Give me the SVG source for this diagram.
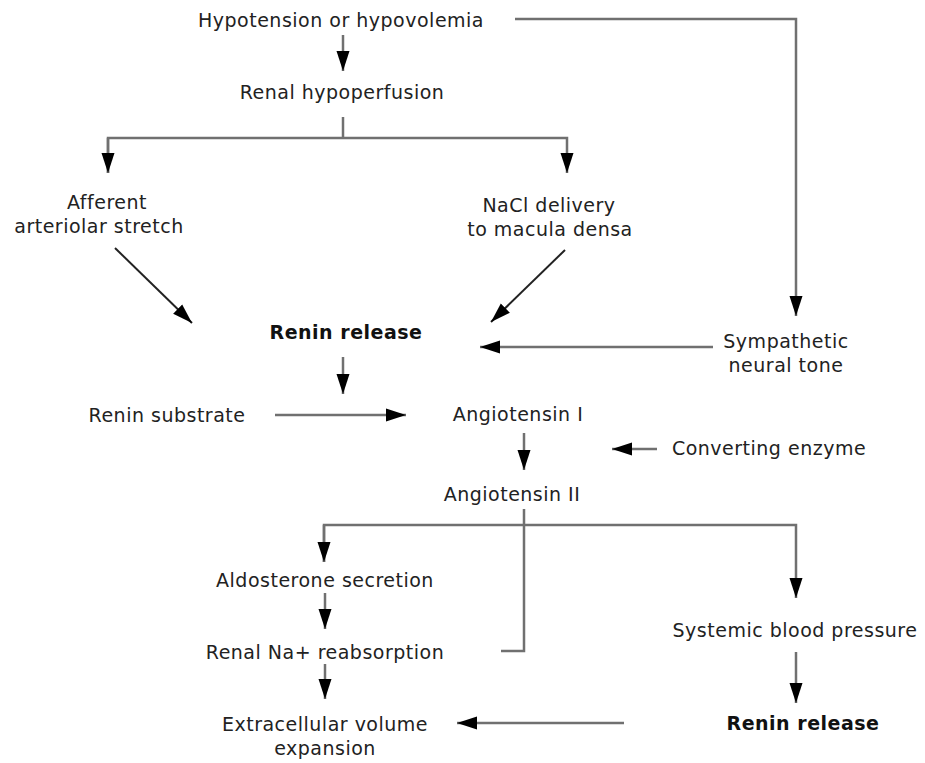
<svg xmlns="http://www.w3.org/2000/svg" width="925" height="763" viewBox="0 0 925 763">
<style>
text{font-family:"DejaVu Sans",Verdana,sans-serif;font-size:19px;letter-spacing:0.5px;fill:#222;text-anchor:middle}
.b{font-weight:bold;fill:#111}
.c{fill:none;stroke:#707070;stroke-width:2.5}
.d{fill:none;stroke:#222;stroke-width:2}
</style>
<defs>
<marker id="ah" markerUnits="userSpaceOnUse" markerWidth="20" markerHeight="14" refX="20" refY="7" orient="auto" viewBox="0 0 20 14">
<path d="M0,0.5 L20,7 L0,13.5 z" fill="#000"/>
</marker>
</defs>
<rect width="925" height="763" fill="#fff"/>
<g id="connectors">
<line class="c" x1="343" y1="35" x2="343" y2="71" marker-end="url(#ah)"/>
<polyline class="c" points="343,117 343,138"/>
<polyline class="c" points="108,173 108,138 567,138 567,173" marker-end="url(#ah)"/>
<line class="c" x1="108" y1="138" x2="108" y2="173" marker-end="url(#ah)"/>
<line class="d" x1="115" y1="248" x2="192" y2="323" marker-end="url(#ah)"/>
<line class="d" x1="565" y1="250" x2="491" y2="322" marker-end="url(#ah)"/>
<polyline class="c" points="515,19 796,19 796,316" marker-end="url(#ah)"/>
<line class="c" x1="713" y1="347" x2="480" y2="347" marker-end="url(#ah)"/>
<line class="c" x1="343" y1="357" x2="343" y2="394" marker-end="url(#ah)"/>
<line class="c" x1="275" y1="415" x2="406" y2="415" marker-end="url(#ah)"/>
<line class="c" x1="524" y1="433" x2="524" y2="470" marker-end="url(#ah)"/>
<line class="c" x1="657" y1="449" x2="612" y2="449" marker-end="url(#ah)"/>
<polyline class="c" points="524,509 524,651 501,651"/>
<polyline class="c" points="324,562 324,525 796,525 796,598" marker-end="url(#ah)"/>
<line class="c" x1="324" y1="525" x2="324" y2="562" marker-end="url(#ah)"/>
<line class="c" x1="325" y1="593" x2="325" y2="629" marker-end="url(#ah)"/>
<line class="c" x1="325" y1="664" x2="325" y2="699" marker-end="url(#ah)"/>
<line class="c" x1="796" y1="652" x2="796" y2="703" marker-end="url(#ah)"/>
<line class="c" x1="624" y1="723" x2="457" y2="723" marker-end="url(#ah)"/>
</g>
<g id="n-hypotension"><text x="341" y="27">Hypotension or hypovolemia</text></g>
<g id="n-renal-hypoperfusion"><text x="342" y="99">Renal hypoperfusion</text></g>
<g id="n-afferent"><text x="107" y="209">Afferent</text><text x="99" y="233">arteriolar stretch</text></g>
<g id="n-nacl"><text x="549" y="212">NaCl delivery</text><text x="550" y="236">to macula densa</text></g>
<g id="n-renin-release"><text class="b" x="346" y="339">Renin release</text></g>
<g id="n-sympathetic"><text x="786" y="348">Sympathetic</text><text x="786" y="372">neural tone</text></g>
<g id="n-renin-substrate"><text x="167" y="422">Renin substrate</text></g>
<g id="n-angiotensin-i"><text x="518" y="421">Angiotensin I</text></g>
<g id="n-converting-enzyme"><text x="769" y="455">Converting enzyme</text></g>
<g id="n-angiotensin-ii"><text x="512" y="501">Angiotensin II</text></g>
<g id="n-aldosterone"><text x="325" y="587">Aldosterone secretion</text></g>
<g id="n-renal-na"><text x="325" y="659">Renal Na+ reabsorption</text></g>
<g id="n-ecv"><text x="325" y="731">Extracellular volume</text><text x="325" y="755">expansion</text></g>
<g id="n-sbp"><text x="795" y="637">Systemic blood pressure</text></g>
<g id="n-renin-release-2"><text class="b" x="803" y="730">Renin release</text></g>
</svg>
